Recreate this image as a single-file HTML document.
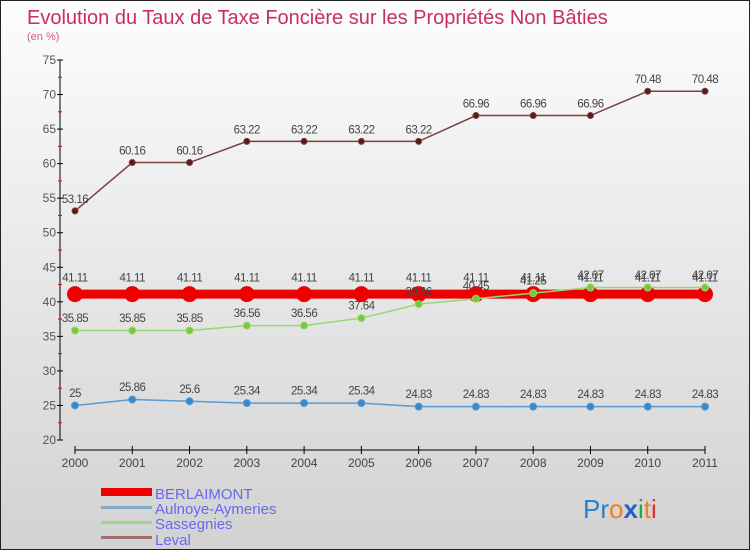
<!DOCTYPE html>
<html><head><meta charset="utf-8"><style>
html,body{margin:0;padding:0}
body{width:750px;height:550px;overflow:hidden;font-family:"Liberation Sans",sans-serif}
#wrap{position:relative;width:748px;height:548px;border:1px solid #222;background:linear-gradient(#fdfdfd,#d2d2d2)}
</style></head><body>
<div id="wrap">
<svg id="chart" width="748" height="548" style="position:absolute;left:0;top:0">
<text x="26" y="23" font-size="20" fill="#c8305a">Evolution du Taux de Taxe Foncière sur les Propriétés Non Bâties</text>
<text x="26" y="39" font-size="11" fill="#d05a80">(en %)</text>
<g id="axes"></g><g id="series"></g><g id="labels"></g>
<g>
<rect x="100" y="487" width="51" height="8" fill="#e00"/>
<text x="154" y="498" font-size="15" fill="#6868ee">BERLAIMONT</text>
<rect x="100" y="505" width="51" height="3" fill="#80aacc"/>
<text x="154" y="513" font-size="15" fill="#6868ee">Aulnoye-Aymeries</text>
<rect x="100" y="520" width="51" height="3" fill="#98d888"/>
<text x="154" y="528" font-size="15" fill="#6868ee">Sassegnies</text>
<rect x="100" y="535" width="51" height="3" fill="#a07070"/>
<text x="154" y="544" font-size="15" fill="#6868ee">Leval</text>
</g>
<text x="582" y="517" font-size="26"><tspan fill="#2a7fd0">Pr</tspan><tspan fill="#f08020">o</tspan><tspan fill="#2060c0" font-weight="bold">x</tspan><tspan fill="#30a040">i</tspan><tspan fill="#f08020">t</tspan><tspan fill="#e03030">i</tspan></text>
</svg>
</div>
<script>
const years=[2000,2001,2002,2003,2004,2005,2006,2007,2008,2009,2010,2011];
const berlaimont=[41.11,41.11,41.11,41.11,41.11,41.11,41.11,41.11,41.11,41.11,41.11,41.11];
const aulnoye=[25,25.86,25.6,25.34,25.34,25.34,24.83,24.83,24.83,24.83,24.83,24.83];
const sassegnies=[35.85,35.85,35.85,36.56,36.56,37.64,39.66,40.45,41.25,42.07,42.07,42.07];
const leval=[53.16,60.16,60.16,63.22,63.22,63.22,63.22,66.96,66.96,66.96,70.48,70.48];
const yTicks=[20,25,30,35,40,45,50,55,60,65,70,75];
const NS="http://www.w3.org/2000/svg";
const x0=74,x1=704,yTop=59,yBot=439,vMin=20,vMax=75;
const xs=i=>x0+i*(x1-x0)/(years.length-1);
const ys=v=>yBot-(v-vMin)/(vMax-vMin)*(yBot-yTop);
function el(t,a,p){const e=document.createElementNS(NS,t);for(const k in a)e.setAttribute(k,a[k]);p.appendChild(e);return e;}
const axes=document.getElementById('axes'),ser=document.getElementById('series'),lab=document.getElementById('labels');
let ya=el('line',{x1:59,y1:yTop,x2:59,y2:yBot,stroke:'#000'},axes);


yTicks.forEach((t,i)=>{
 el('line',{x1:56,x2:62,y1:ys(t),y2:ys(t),stroke:'#000'},axes);
 if(i<yTicks.length-1) el('line',{x1:57,x2:61,y1:ys(t+2.5),y2:ys(t+2.5),stroke:'#e00'},axes);
 let tx=el('text',{x:55,y:ys(t)+4,'font-size':12,fill:'#555','text-anchor':'end'},axes);
 tx.textContent=t;
 
 
});
let xa=el('line',{x1:x0,y1:449,x2:x1,y2:449,stroke:'#000'},axes);


years.forEach((y,i)=>{
 el('line',{x1:xs(i),x2:xs(i),y1:445,y2:453,stroke:'#000'},axes);
 let tx=el('text',{x:xs(i),y:466,'font-size':12,fill:'#444','text-anchor':'middle'},axes);
 tx.textContent=y;
 
 
});
function series(vals,color,lw,r,fill,name){
 const pts=vals.map((v,i)=>xs(i)+','+ys(v)).join(' ');
 let pl=el('polyline',{points:pts,fill:'none',stroke:color,'stroke-width':lw},ser);
 
 
 vals.forEach((v,i)=>{
  let c=el('circle',{cx:xs(i),cy:ys(v),r:r,fill:fill,stroke:color,'stroke-width':1},ser);
  
  
  let t=el('text',{x:xs(i),y:ys(v)-(r+5),'font-size':11.5,fill:'#444','text-anchor':'middle','letter-spacing':'-0.5'},lab);
  t.textContent=v;
  
  
 });
}
series(leval,'#7a4040',1.5,3,'#5a1818','leval');
series(aulnoye,'#5a9ad0',1.5,3.5,'#3a88c8','aulnoye');
series(berlaimont,'#e00',9,7.5,'#e00','berlaimont');
series(sassegnies,'#98d870',1.5,3.5,'#78c838','sassegnies');
</script>
</body></html>
